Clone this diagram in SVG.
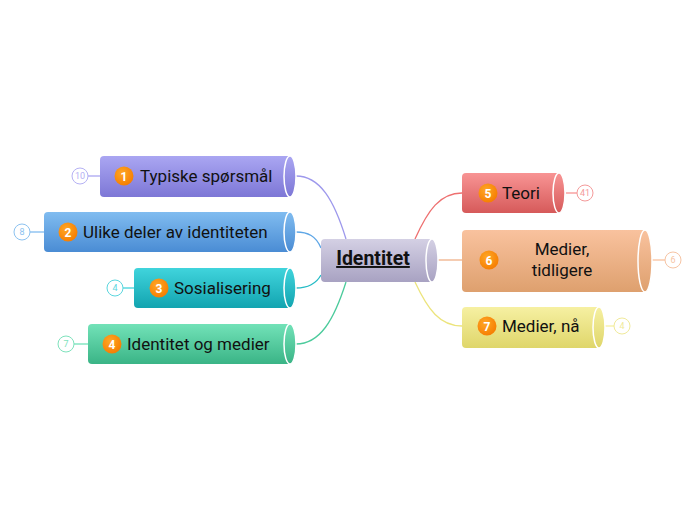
<svg xmlns="http://www.w3.org/2000/svg" width="696" height="520" viewBox="0 0 696 520">
<defs>
<linearGradient id="gP" x1="0" y1="0" x2="0" y2="1"><stop offset="0" stop-color="#aaa6f2"/><stop offset="1" stop-color="#7d77d6"/></linearGradient>
<linearGradient id="gB" x1="0" y1="0" x2="0" y2="1"><stop offset="0" stop-color="#80bcf0"/><stop offset="1" stop-color="#4a8cd4"/></linearGradient>
<linearGradient id="gT" x1="0" y1="0" x2="0" y2="1"><stop offset="0" stop-color="#40d4dc"/><stop offset="1" stop-color="#12a4b0"/></linearGradient>
<linearGradient id="gG" x1="0" y1="0" x2="0" y2="1"><stop offset="0" stop-color="#72e2b8"/><stop offset="1" stop-color="#3ab486"/></linearGradient>
<linearGradient id="gC" x1="0" y1="0" x2="0" y2="1"><stop offset="0" stop-color="#d4d0e4"/><stop offset="1" stop-color="#a8a2c2"/></linearGradient>
<linearGradient id="gR" x1="0" y1="0" x2="0" y2="1"><stop offset="0" stop-color="#f89494"/><stop offset="1" stop-color="#d65a5a"/></linearGradient>
<linearGradient id="gO" x1="0" y1="0" x2="0" y2="1"><stop offset="0" stop-color="#f9c29e"/><stop offset="1" stop-color="#dea06e"/></linearGradient>
<linearGradient id="gY" x1="0" y1="0" x2="0" y2="1"><stop offset="0" stop-color="#f6f0a2"/><stop offset="1" stop-color="#dfd66a"/></linearGradient>
<radialGradient id="gBadge" cx="0.4" cy="0.35" r="0.7"><stop offset="0" stop-color="#ffa726"/><stop offset="1" stop-color="#f57c00"/></radialGradient>
</defs>
<style>
.lbl{font-family:Roboto,"Liberation Sans",sans-serif;font-size:17px;fill:#111}
.num{font-family:Roboto,"Liberation Sans",sans-serif;font-size:12px;font-weight:bold;fill:#fff;text-anchor:middle}
.cnt{font-family:Roboto,"Liberation Sans",sans-serif;font-size:9px;text-anchor:middle;fill:#fff}
.cap{stroke:#fff;stroke-width:1.5}
.badge{fill:url(#gBadge)}
.conn{fill:none;stroke-width:1.3}
</style>
<g id="connectors">
<path class="conn" stroke="#9d98ec" d="M346,239 C334,200 320,176 296,176"/>
<path class="conn" stroke="#5ea6e6" d="M321,248 C316,236 308,232 296,232"/>
<path class="conn" stroke="#26bcc6" d="M321,275 C316,284 308,288 296,288"/>
<path class="conn" stroke="#4ccb9c" d="M346,282 C334,320 320,344 296,344"/>
<path class="conn" stroke="#ee7070" d="M415,239 C428,210 440,193 462,193"/>
<path class="conn" stroke="#f0b088" d="M438,260 H462"/>
<path class="conn" stroke="#ece47c" d="M415,282 C428,310 440,326 462,326"/>
<line x1="88" y1="176" x2="100" y2="176" stroke="#aaa6f2" stroke-width="1.3"/>
<line x1="30" y1="232" x2="44" y2="232" stroke="#80bcf0" stroke-width="1.3"/>
<line x1="123" y1="288" x2="134" y2="288" stroke="#40d4dc" stroke-width="1.3"/>
<line x1="74" y1="344" x2="88" y2="344" stroke="#72e2b8" stroke-width="1.3"/>
<line x1="566" y1="193" x2="577" y2="193" stroke="#f89494" stroke-width="1.3"/>
<line x1="652" y1="260" x2="665" y2="260" stroke="#f9c29e" stroke-width="1.3"/>
<line x1="605" y1="326" x2="614" y2="326" stroke="#f6f0a2" stroke-width="1.3"/>
</g>
<g id="center">
<path d="M325,239 H432 A6,21.5 0 0 1 432,282 H325 Q321,282 321,278 V243 Q321,239 325,239 Z" fill="url(#gC)"/>
<ellipse class="cap" cx="432" cy="260.5" rx="6" ry="21.5" fill="url(#gC)"/>
<text x="373" y="265" text-anchor="middle" style="font-family:Roboto,'Liberation Sans',sans-serif;font-size:19.5px;font-weight:bold;fill:#111;text-decoration:underline">Identitet</text>
</g>
<g id="node1">
<path d="M104,156 H290 A6,20.5 0 0 1 290,197 H104 Q100,197 100,193 V160 Q100,156 104,156 Z" fill="url(#gP)"/>
<ellipse class="cap" cx="290" cy="176.5" rx="6" ry="20.5" fill="url(#gP)"/>
<circle class="badge" cx="124" cy="176" r="9.5"/><text class="num" x="124" y="180.5">1</text>
<text class="lbl" x="140" y="182">Typiske spørsmål</text>
<circle cx="80" cy="176" r="8" fill="#fff" stroke="#b5b1f4" stroke-width="1"/><text class="cnt" x="80" y="179" style="fill:#b5b1f4">10</text>
</g>
<g id="node2">
<path d="M48,212 H290 A6,20 0 0 1 290,252 H48 Q44,252 44,248 V216 Q44,212 48,212 Z" fill="url(#gB)"/>
<ellipse class="cap" cx="290" cy="232" rx="6" ry="20" fill="url(#gB)"/>
<circle class="badge" cx="68" cy="232" r="9.5"/><text class="num" x="68" y="236.5">2</text>
<text class="lbl" x="83" y="238">Ulike deler av identiteten</text>
<circle cx="22" cy="232" r="8" fill="#fff" stroke="#8cc2f0" stroke-width="1"/><text class="cnt" x="22" y="235" style="fill:#8cc2f0">8</text>
</g>
<g id="node3">
<path d="M138,268 H290 A6,20 0 0 1 290,308 H138 Q134,308 134,304 V272 Q134,268 138,268 Z" fill="url(#gT)"/>
<ellipse class="cap" cx="290" cy="288" rx="6" ry="20" fill="url(#gT)"/>
<circle class="badge" cx="159" cy="288" r="9.5"/><text class="num" x="159" y="292.5">3</text>
<text class="lbl" x="174" y="294">Sosialisering</text>
<circle cx="115" cy="288" r="8" fill="#fff" stroke="#5ad6de" stroke-width="1"/><text class="cnt" x="115" y="291" style="fill:#5ad6de">4</text>
</g>
<g id="node4">
<path d="M92,324 H290 A6,20 0 0 1 290,364 H92 Q88,364 88,360 V328 Q88,324 92,324 Z" fill="url(#gG)"/>
<ellipse class="cap" cx="290" cy="344" rx="6" ry="20" fill="url(#gG)"/>
<circle class="badge" cx="112" cy="344" r="9.5"/><text class="num" x="112" y="348.5">4</text>
<text class="lbl" x="127" y="350">Identitet og medier</text>
<circle cx="66" cy="344" r="8" fill="#fff" stroke="#7ee2bc" stroke-width="1"/><text class="cnt" x="66" y="347" style="fill:#7ee2bc">7</text>
</g>
<g id="node5">
<path d="M466,173 H559 A6,20 0 0 1 559,213 H466 Q462,213 462,209 V177 Q462,173 466,173 Z" fill="url(#gR)"/>
<ellipse class="cap" cx="559" cy="193" rx="6" ry="20" fill="url(#gR)"/>
<circle class="badge" cx="488" cy="193" r="9.5"/><text class="num" x="488" y="197.5">5</text>
<text class="lbl" x="502" y="199">Teori</text>
<circle cx="585" cy="193" r="8" fill="#fff" stroke="#f49a9a" stroke-width="1"/><text class="cnt" x="585" y="196" style="fill:#f49a9a">41</text>
</g>
<g id="node6">
<path d="M466,230 H645 A7,31 0 0 1 645,292 H466 Q462,292 462,288 V234 Q462,230 466,230 Z" fill="url(#gO)"/>
<ellipse class="cap" cx="645" cy="261" rx="7" ry="31" fill="url(#gO)"/>
<circle class="badge" cx="489" cy="260" r="9.5"/><text class="num" x="489" y="264.5">6</text>
<text class="lbl" x="562" y="255" text-anchor="middle">Medier,</text>
<text class="lbl" x="562" y="276" text-anchor="middle">tidligere</text>
<circle cx="673" cy="260" r="8" fill="#fff" stroke="#f6c4a4" stroke-width="1"/><text class="cnt" x="673" y="263" style="fill:#f6c4a4">6</text>
</g>
<g id="node7">
<path d="M466,307 H599 A6,20.5 0 0 1 599,348 H466 Q462,348 462,344 V311 Q462,307 466,307 Z" fill="url(#gY)"/>
<ellipse class="cap" cx="599" cy="327.5" rx="6" ry="20.5" fill="url(#gY)"/>
<circle class="badge" cx="487" cy="326" r="9.5"/><text class="num" x="487" y="330.5">7</text>
<text class="lbl" x="502" y="332">Medier, nå</text>
<circle cx="622" cy="326" r="8" fill="#fff" stroke="#f0ea9a" stroke-width="1"/><text class="cnt" x="622" y="329" style="fill:#f0ea9a">4</text>
</g>
</svg>
